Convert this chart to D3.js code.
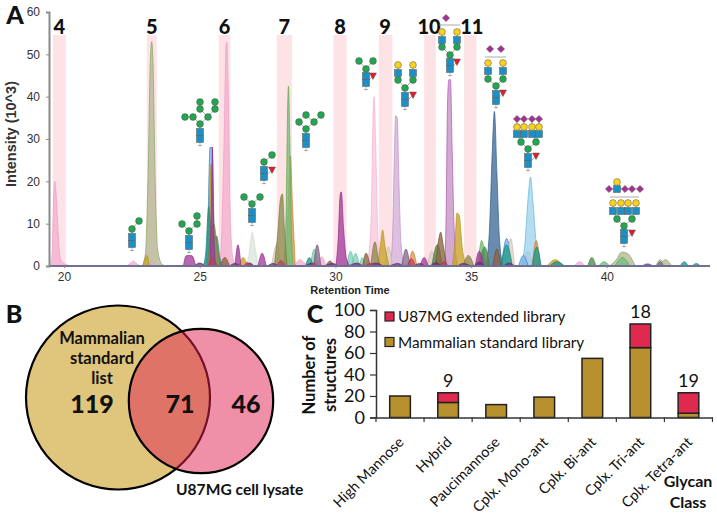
<!DOCTYPE html>
<html lang="en">
<head>
<meta charset="UTF-8">
<title>U87MG glycan profile</title>
<style>
    body { margin: 0; background: #fff; }
    svg { display: block; }
    text { font-family: Lato, sans-serif; fill: #111; }
    .arial text, text.arial { font-family: "Liberation Sans", Arial, sans-serif; }
</style>
</head>
<body>
<div id="chart"></div>
<script src="https://d3js.org/d3.v7.min.js"></script>
<script>
// ---- panel A data: each peak is a flat list rt, intensity, rt, intensity ...
const pinkPeaks = [
    [19.5,0, 19.56,3, 19.62,17, 19.66,20, 19.72,16, 19.8,6, 19.88,1.5, 20.05,0.4, 20.3,0],
    [22.3,0, 22.45,0.7, 22.55,1.2, 22.65,0.7, 22.8,0],
    [25.72,0, 25.8,6, 25.9,30, 25.97,52, 26.0,53, 26.05,42, 26.12,14, 26.22,2, 26.35,0],
    [28.5,0, 28.62,1.2, 28.72,1.5, 28.85,0.7, 29.0,0],
    [29.35,0, 29.5,2.2, 29.65,0],
    [38.8,0, 39.0,1, 39.2,0]
];
const lightPinkPeaks = [
    [31.15,0, 31.22,2, 31.32,12, 31.4,38, 31.43,40, 31.48,30, 31.56,8, 31.65,1, 31.78,0]
];
const sagePeaks = [
    [22.9,0, 23.0,3, 23.1,22, 23.18,48, 23.23,53, 23.28,48, 23.36,20, 23.45,4, 23.6,0.5, 23.75,0],
    [40.1,0, 40.35,1.5, 40.55,3.3, 40.75,3, 41.05,0],
    [41.8,0, 41.97,1.5, 42.05,1.1, 42.15,1.5, 42.4,0]
];
const paleSagePeaks = [
    [26.65,0, 26.8,2, 26.88,6, 26.94,8, 27.0,6, 27.1,2, 27.22,0]
];
const paleTealPeaks = [
    [30.42,0, 30.56,3.5, 30.7,0],
    [30.6,0, 30.75,3, 30.9,0.5, 30.97,2, 31.1,0],
    [29.08,0, 29.22,4, 29.36,0]
];
const olivePeaks = [
    [27.75,0, 27.88,8, 27.98,16, 28.05,17, 28.12,9, 28.22,0],
    [25.3,0, 25.42,8, 25.52,10, 25.62,6, 25.75,0],
    [31.3,0, 31.46,5.7, 31.6,1, 31.7,0],
    [34.7,0, 34.9,2.5, 35.1,0]
];
const greenPeaks = [
    [28.1,0, 28.18,12, 28.25,40, 28.27,42.5, 28.32,30, 28.38,8, 28.45,0],
    [35.25,0, 35.39,6, 35.55,0],
    [39.7,0, 39.9,1, 40.1,0],
    [40.3,0, 40.58,2, 40.85,0]
];
const darkGreenPeaks = [
    [35.3,0, 35.5,4.5, 35.68,0],
    [39.3,0, 39.45,2, 39.6,0],
    [33.55,0, 33.76,5, 33.95,0]
];
const goldPeaks = [
    [22.9,0, 23.05,2.5, 23.15,0],
    [25.28,0, 25.36,14, 25.42,24, 25.48,18, 25.55,5, 25.65,0],
    [26.45,0, 26.6,2, 26.75,0],
    [31.55,0, 31.66,5, 31.74,8.5, 31.82,5, 31.98,0],
    [34.3,0, 34.4,5, 34.48,12.5, 34.56,12, 34.68,4, 34.85,0],
    [37.8,0, 38.1,1.5, 38.4,0]
];
const orangePeaks = [
    [28.18,0, 28.26,14, 28.34,26, 28.42,14, 28.52,0],
    [37.25,0, 37.4,6, 37.55,0],
    [32.7,0, 32.84,3.5, 33.0,0]
];
const purplePeaks = [
    [24.4,0, 24.5,2.4, 24.6,2.5, 24.72,2.4, 24.85,0],
    [25.38,0, 25.44,18, 25.47,28, 25.5,14, 25.58,0],
    [26.3,0, 26.41,5, 26.52,0],
    [27.15,0, 27.3,3, 27.45,0],
    [30.02,0, 30.1,6, 30.18,17, 30.22,17.5, 30.3,9, 30.4,2, 30.55,0],
    [33.12,0, 33.27,2, 33.42,0],
    [35.15,0, 35.3,3.5, 35.48,0]
];
const orchidPeaks = [
    [34.02,0, 34.08,12, 34.13,38, 34.18,44, 34.24,44, 34.3,28, 34.38,8, 34.5,0]
];
const lightPurplePeaks = [
    [32.02,0, 32.1,6, 32.18,28, 32.22,35.5, 32.28,35, 32.34,20, 32.42,5, 32.55,0],
    [36.9,0, 37.09,3.5, 37.3,0]
];
const bluePeaks = [
    [25.22,0, 25.3,9, 25.38,28, 25.46,28, 25.54,6, 25.62,0],
    [36.12,0, 36.31,6.5, 36.5,0],
    [36.75,0, 36.93,2.5, 37.1,0]
];
const navyPeaks = [
    [35.55,0, 35.68,9, 35.78,27, 35.86,36.5, 35.95,22, 36.05,6, 36.18,0]
];
const skyPeaks = [
    [36.85,0, 36.98,5, 37.1,16, 37.19,21, 37.28,15, 37.42,4, 37.58,0]
];
const tealPeaks = [
    [25.12,0, 25.22,3, 25.33,14, 25.44,7, 25.54,7, 25.63,7, 25.74,2, 25.85,0],
    [28.9,0, 29.04,2, 29.18,0],
    [36.1,0, 36.31,5, 36.52,0],
    [37.25,0, 37.42,4.5, 37.58,0],
    [37.9,0, 38.15,1, 38.45,0],
    [42.7,0, 42.86,1, 43.0,0],
    [43.15,0, 43.3,0.6, 43.45,0]
];
const brownPeaks = [
    [25.75,0, 25.93,2, 26.1,0],
    [31.0,0, 31.13,3, 31.28,0],
    [33.68,0, 33.8,6, 33.88,8, 33.97,5, 34.1,0],
    [29.65,0, 29.8,1.2, 29.95,0],
    [35.8,0, 35.95,4, 36.1,0]
];
const beigePeaks = [
    [27.65,0, 27.84,5, 27.98,0],
    [31.82,0, 31.95,4.5, 32.1,0],
    [33.38,0, 33.55,3.5, 33.72,0],
    [36.33,0, 36.46,6.5, 36.6,0]
];
const mauvePeaks = [
    [29.2,0, 29.33,5, 29.46,0],
    [32.45,0, 32.6,4, 32.75,0],
    [41.85,0, 41.97,1, 42.1,0]
];
const baselinePeaks = [
    [24.8,0, 25.0,0.7, 25.2,0],
    [26.1,0, 26.3,0.6, 26.5,0],
    [26.7,0, 26.85,0.7, 27.0,0],
    [27.5,0, 27.7,0.6, 27.9,0],
    [28.9,0, 29.1,0.6, 29.25,0],
    [29.6,0, 29.9,0.6, 30.1,0],
    [30.5,0, 30.8,0.7, 31.0,0],
    [31.2,0, 31.5,0.7, 31.75,0],
    [32.0,0, 32.3,0.6, 32.5,0],
    [32.9,0, 33.1,0.6, 33.3,0],
    [33.5,0, 33.7,0.8, 33.9,0],
    [34.5,0, 34.7,0.6, 35.0,0],
    [35.1,0, 35.3,0.9, 35.5,0],
    [36.2,0, 36.4,0.7, 36.6,0],
    [41.3,0, 41.5,0.5, 41.7,0]
];
const crimsonPeaks = [
    [25.3,0, 25.45,1.5, 25.65,0],
    [26.62,0, 26.76,0.8, 26.9,0],
    [27.85,0, 28.0,1.3, 28.15,0],
    [29.05,0, 29.2,0.7, 29.35,0],
    [32.65,0, 32.8,1.7, 32.95,0],
    [33.85,0, 34.0,1, 34.15,0],
    [31.1,0, 31.3,0.6, 31.45,0]
];

const retentionTicks = [20, 25, 30, 35, 40];
const intensityTicks = [0, 10, 20, 30, 40, 50, 60];

const peakBandNames = ["4", "5", "6", "7", "8", "9", "10", "11"];
const peakBandStart = [19.59, 23.05, 25.7, 27.84, 29.93, 31.6, 33.27, 34.74];
const peakBandEnd = [20.07, 23.42, 26.13, 28.4, 30.41, 32.1, 33.7, 35.2];

// ---- panel B data
const onlyStandard = 119;
const shared = 71;
const onlyLysate = 46;

// ---- panel C data
const glycanClasses = ["High Mannose", "Hybrid", "Paucimannose", "Cplx. Mono-ant", "Cplx. Bi-ant", "Cplx. Tri-ant", "Cplx. Tetra-ant"];
const standardCounts = [20, 14, 12, 19, 55, 65, 4];
const extendedCounts = [0, 9, 0, 0, 0, 22, 19];
const extendedLabels = ["", "9", "", "", "", "18", "19"];
const structureTicks = [0, 20, 40, 60, 80, 100];

// ---- glycan cartoons: [type, x, y, parent index]
// s GlcNAc, m mannose, g galactose, f fucose, n sialic acid
const glycanIcons = [
    [["s",132,244,-1],["s",132,237,0],["m",132,229,1],["m",139,221,2]],
    [["s",189,246,-1],["s",189,239,0],["m",189,231,1],["m",182,224,2],["m",197,224,2],["m",197,216,4]],
    [["s",200,139,-1],["s",200,132,0],["m",200,124,1],["m",193,117,2],["m",185,117,3],["m",208,117,2],
     ["m",200,109,5],["m",200,102,6],["m",215,109,5],["m",215,102,8]],
    [["s",252,219,-1],["s",252,212,0],["m",252,204,1],["m",244,197,2],["m",260,197,2]],
    [["s",264,177,-1],["s",264,170,0],["m",264,162,1],["m",272,155,2],["f",272,170,0]],
    [["s",306,144,-1],["s",306,137,0],["m",306,129,1],["m",299,122,2],["m",314,122,2],["m",306,115,4],["m",321,115,4]],
    [["s",366,83,-1],["s",366,76,0],["m",366,69,1],["m",359,61,2],["m",373,61,2],["f",373,76,0]],
    [["s",405,103,-1],["s",405,96,0],["m",405,88,1],["m",398,80,2],["m",413,80,2],["s",398,73,3],["s",413,73,4],
     ["g",398,65,5],["g",413,65,6],["f",413,95,0]],
    [["s",450,69,-1],["s",450,62,0],["m",450,55,1],["m",442,47,2],["m",457,47,2],["s",442,40,3],["s",457,40,4],
     ["g",442,32,5],["g",457,32,6],["f",457,62,0],["n",446,18,-2]],
    [["s",496,101,-1],["s",496,94,0],["m",496,86,1],["m",488,79,2],["m",503,79,2],["s",488,71,3],["s",503,71,4],
     ["g",488,63,5],["g",503,63,6],["f",503,93,0],["n",490,49,-2],["n",501,49,-2]],
    [["s",528,164,-1],["s",528,157,0],["m",528,149,1],["m",521,142,2],["m",536,142,2],
     ["s",517,134,3],["s",524,134,3],["s",532,134,4],["s",539,134,4],
     ["g",517,127,5],["g",524,127,6],["g",532,127,7],["g",539,127,8],
     ["n",517,119,9],["n",524,119,10],["n",532,119,11],["n",539,119,12],["f",536,156,0]],
    [["s",624,240,-1],["s",624,233,0],["m",624,226,1],["m",617,219,2],["m",632,219,2],
     ["s",613,211,3],["s",621,211,3],["s",628,211,4],["s",636,211,4],
     ["g",613,203,5],["g",621,203,6],["g",628,203,7],["g",636,203,8],["f",632,233,0],
     ["s",617,189,-2],["g",617,182,14],["n",609,189,14],["n",625,189,14],["n",632,189,-2],["n",640,189,-2]]
];
const iconBrackets = [[439, 460, 25], [485, 506, 57], [610, 639, 197]];

// ---- set up
const width = 717, height = 515;
const svg = d3.select("#chart").append("svg").attr("width", width).attr("height", height);
svg.append("rect").attr("width", width).attr("height", height).attr("fill", "#fff");

function panelLabel(txt, x, y, size) {
    svg.append("text").attr("x", x).attr("y", y).attr("text-anchor", "middle")
        .attr("font-weight", 900).attr("font-size", size).text(txt);
}

// ---- panel A
const xA = d3.scaleLinear().domain([20, 45]).range([64, 742.5]);
const yA = d3.scaleLinear().domain([0, 60]).range([266, 12]);
const chartA = svg.append("g");

const bandG = chartA.append("g");
peakBandNames.forEach((name, i) => {
    bandG.append("rect")
        .attr("x", xA(peakBandStart[i]))
        .attr("width", xA(peakBandEnd[i]) - xA(peakBandStart[i]))
        .attr("y", 35).attr("height", 231)
        .attr("fill", "#fde3e6");
    bandG.append("text")
        .attr("x", (xA(peakBandStart[i]) + xA(peakBandEnd[i])) / 2 + (name === "9" ? -0.5 : 0) + (name === "10" ? -1 : 0) + (name === "11" ? 1.5 : 0))
        .attr("y", 33.5).attr("text-anchor", "middle")
        .attr("font-size", 20).attr("font-weight", 900).text(name);
});

const peakArea = d3.area()
    .x(d => xA(d[0])).y0(yA(0)).y1(d => yA(d[1]))
    .curve(d3.curveMonotoneX);

function toPairs(flat) {
    const pairs = [];
    for (let i = 0; i < flat.length; i += 2) pairs.push([flat[i], flat[i + 1]]);
    return pairs;
}

const peakGroups = [
    [pinkPeaks, "#f3aed0", "#ee9cc6"],
    [lightPinkPeaks, "#f8c6dd", "#f3b0d2"],
    [sagePeaks, "#b5b794", "#7fa65e"],
    [paleSagePeaks, "#dde6dc", "#cfdccf"],
    [lightPurplePeaks, "#d3aed6", "#be8cc4"],
    [orchidPeaks, "#c78fc6", "#a757a8"],
    [skyPeaks, "#9fd3ea", "#67b6dc"],
    [bluePeaks, "#79b6e8", "#3a78c0"],
    [navyPeaks, "#3d6a98", "#2a5a8a"],
    [beigePeaks, "#dccfc4", "#c8b8aa"],
    [paleTealPeaks, "#86d2b8", "#5fbfa0"],
    [goldPeaks, "#c9a227", "#b58f1e"],
    [orangePeaks, "#d99a4a", "#d0763a"],
    [tealPeaks, "#1f9a8a", "#16867c"],
    [greenPeaks, "#6fbf80", "#68a845"],
    [olivePeaks, "#8d8a4c", "#7d7a3c"],
    [darkGreenPeaks, "#4f8a4a", "#3f7a3a"],
    [purplePeaks, "#a43c9c", "#8f2c8c"],
    [brownPeaks, "#8a6440", "#74502c"],
    [mauvePeaks, "#8a6a90", "#6f5078"],
    [baselinePeaks, "#74307c", "#5f2a70"],
    [crimsonPeaks, "#c0405c", "#b03050"]
];
peakGroups.forEach(([peaks, fill, stroke]) => {
    chartA.append("g").selectAll("path").data(peaks).enter().append("path")
        .attr("d", d => peakArea(toPairs(d)))
        .attr("fill", fill).attr("fill-opacity", 0.78)
        .attr("stroke", stroke).attr("stroke-width", 0.7);
});

// axes for A
const axisA = chartA.append("g").attr("class", "arial");
const xAxisA = axisA.append("g").attr("transform", "translate(0,266)")
    .call(d3.axisBottom(xA).tickValues(retentionTicks).tickSize(2).tickPadding(4).tickFormat(d3.format("d")));
xAxisA.select(".domain").attr("d", "M49,0H710").attr("stroke", "#6f6f96").attr("stroke-width", 2);
xAxisA.selectAll("text").attr("font-size", 12).style("fill", "#333");
xAxisA.selectAll("line").attr("stroke", "#888");

const yAxisA = axisA.append("g").attr("transform", "translate(49,0)")
    .call(d3.axisLeft(yA).tickValues(intensityTicks).tickSize(3).tickPadding(6));
yAxisA.select(".domain").attr("stroke", "#8a8a8a").attr("stroke-width", 2);
yAxisA.selectAll("text").attr("font-size", 12).style("fill", "#333");
yAxisA.selectAll("line").attr("stroke", "#888");

axisA.append("text").attr("transform", "translate(16,134) rotate(-90)")
    .attr("text-anchor", "middle").attr("font-size", 14.5).attr("font-weight", 700)
    .style("fill", "#333").text("Intensity (10^3)");
axisA.append("text").attr("x", 350).attr("y", 294)
    .attr("text-anchor", "middle").attr("font-size", 11).attr("font-weight", 700)
    .style("fill", "#222").text("Retention Time");

panelLabel("A", 15, 24, 25);

// glycan cartoons
const residueFill = { s: "#1c8fc4", m: "#22a650", g: "#fad21e", f: "#e31b2d", n: "#a5308f" };
const iconG = svg.append("g");
function drawResidue(g, type, x, y) {
    const edge = { stroke: "#555", "stroke-width": 0.5, fill: residueFill[type] };
    let el;
    if (type === "s") {
        el = g.append("rect").attr("x", x - 3.5).attr("y", y - 3.5).attr("width", 7).attr("height", 7);
    } else if (type === "f") {
        el = g.append("path").attr("d", `M${x - 3.5},${y - 3}H${x + 3.5}L${x},${y + 3.5}Z`);
    } else if (type === "n") {
        el = g.append("path").attr("d", `M${x},${y - 3.6}L${x + 3.6},${y}L${x},${y + 3.6}L${x - 3.6},${y}Z`);
    } else {
        el = g.append("circle").attr("cx", x).attr("cy", y).attr("r", 3.4);
    }
    Object.keys(edge).forEach(k => el.attr(k, edge[k]));
}
glycanIcons.forEach(icon => {
    const g = iconG.append("g");
    const [, rx, ry] = icon[0];
    // reducing-end stub
    g.append("path").attr("d", `M${rx},${ry + 3.5}V${ry + 7.5}M${rx - 2},${ry + 6.5}h4`)
        .attr("stroke", "#888").attr("stroke-width", 0.6).attr("fill", "none");
    icon.forEach(r => {
        if (r[3] >= 0) {
            const p = icon[r[3]];
            g.append("line").attr("x1", r[1]).attr("y1", r[2]).attr("x2", p[1]).attr("y2", p[2])
                .attr("stroke", "#777").attr("stroke-width", 0.6);
        }
    });
    icon.forEach(r => drawResidue(g, r[0], r[1], r[2]));
});
iconBrackets.forEach(([x1, x2, y]) => {
    iconG.append("line").attr("x1", x1).attr("x2", x2).attr("y1", y).attr("y2", y)
        .attr("stroke", "#888").attr("stroke-width", 0.7);
});

// ---- panel B, circles sized by area
const rVenn = d3.scaleSqrt().domain([0, onlyStandard + shared]).range([0, 92]);
const venn = svg.append("g");
venn.append("circle").attr("cx", 118).attr("cy", 397.5).attr("r", rVenn(onlyStandard + shared))
    .attr("fill", "#dfc67c").attr("stroke", "#000").attr("stroke-width", 2.2);
venn.append("circle").attr("cx", 201).attr("cy", 401).attr("r", rVenn(shared + onlyLysate))
    .attr("fill", "#e11f51").attr("fill-opacity", 0.5);
venn.append("circle").attr("cx", 201).attr("cy", 401).attr("r", rVenn(shared + onlyLysate))
    .attr("fill", "none").attr("stroke", "#000").attr("stroke-width", 2.2);

[["Mammalian", 338], ["standard", 358.5], ["list", 378]].forEach(([t, y]) => {
    venn.append("text").attr("x", 102).attr("y", y + 5.5).attr("text-anchor", "middle")
        .attr("font-size", 16.5).attr("font-weight", 700).text(t);
});
[[onlyStandard, 92], [shared, 180], [onlyLysate, 246]].forEach(([v, x]) => {
    venn.append("text").attr("x", x).attr("y", 412.5).attr("text-anchor", "middle")
        .attr("font-size", 25).attr("font-weight", 900).text(v);
});
venn.append("text").attr("x", 176).attr("y", 495).attr("font-size", 15.6).attr("font-weight", 700)
    .text("U87MG cell lysate");
panelLabel("B", 14, 323, 25);

// ---- panel C
const xC = d3.scaleBand().domain(glycanClasses).range([376, 712.5]).paddingInner(0.57).paddingOuter(0.285);
const yC = d3.scaleLinear().domain([0, 100]).range([417.5, 310]);
const chartC = svg.append("g");

chartC.append("g").selectAll("rect").data(glycanClasses).enter().append("rect")
    .attr("x", d => xC(d)).attr("width", xC.bandwidth())
    .attr("y", (d, i) => yC(standardCounts[i])).attr("height", (d, i) => yC(0) - yC(standardCounts[i]))
    .attr("fill", "#b8912f").attr("stroke", "#222").attr("stroke-width", 1.5);
chartC.append("g").selectAll("rect").data(glycanClasses.filter((d, i) => extendedCounts[i] > 0)).enter().append("rect")
    .attr("x", d => xC(d)).attr("width", xC.bandwidth())
    .attr("y", d => { const i = glycanClasses.indexOf(d); return yC(standardCounts[i] + extendedCounts[i]); })
    .attr("height", d => { const i = glycanClasses.indexOf(d); return yC(0) - yC(extendedCounts[i]); })
    .attr("fill", "#e0294f").attr("stroke", "#222").attr("stroke-width", 1.5);

chartC.append("g").selectAll("text").data(glycanClasses).enter().append("text")
    .attr("x", d => xC(d) + xC.bandwidth() / 2)
    .attr("y", (d, i) => yC(standardCounts[i] + extendedCounts[i]) - 6)
    .attr("text-anchor", "middle").attr("font-size", 18)
    .text((d, i) => extendedLabels[i]);

const xAxisC = chartC.append("g").attr("transform", "translate(0,417.5)")
    .call(d3.axisBottom(xC).tickSize(0).tickSizeOuter(0));
xAxisC.select(".domain").attr("stroke", "#333").attr("stroke-width", 1.5);
xAxisC.selectAll("text")
    .attr("font-size", 14.5)
    .attr("text-anchor", "end")
    .attr("transform", "translate(1,22) rotate(-45)")
    .attr("y", 0).attr("dy", "0.35em");
// ticks sit between the bars
chartC.append("g").selectAll("line").data(d3.range(8)).enter().append("line")
    .attr("x1", d => 376 + d * xC.step()).attr("x2", d => 376 + d * xC.step())
    .attr("y1", 417.5).attr("y2", 422).attr("stroke", "#333").attr("stroke-width", 1.2);

const yAxisC = chartC.append("g").attr("transform", "translate(376,0)")
    .call(d3.axisLeft(yC).tickValues(structureTicks).tickSize(6).tickPadding(5));
yAxisC.select(".domain").attr("stroke", "#333").attr("stroke-width", 1.5);
yAxisC.selectAll("text").attr("font-size", 18);
yAxisC.selectAll("line").attr("stroke", "#333").attr("stroke-width", 1.2);

[["Number of", 315], ["structures", 336]].forEach(([t, x]) => {
    chartC.append("text").attr("transform", `translate(${x},375) rotate(-90)`)
        .attr("text-anchor", "middle").attr("font-size", 16.5).attr("font-weight", 700).text(t);
});

[["U87MG extended library", "#e0294f", 316.5], ["Mammalian standard library", "#b8912f", 342]].forEach(([t, c, y]) => {
    chartC.append("rect").attr("x", 385).attr("y", y - 4.5).attr("width", 9).attr("height", 9)
        .attr("fill", c).attr("stroke", "#222").attr("stroke-width", 1.2);
    chartC.append("text").attr("x", 398).attr("y", y + 5.5).attr("font-size", 15.3).text(t);
});

[["Glycan", 482], ["Class", 503]].forEach(([t, y]) => {
    chartC.append("text").attr("x", 688).attr("y", y + 5).attr("text-anchor", "middle")
        .attr("font-size", 16).attr("font-weight", 700).text(t);
});
panelLabel("C", 315, 323, 25);
</script>
</body>
</html>
